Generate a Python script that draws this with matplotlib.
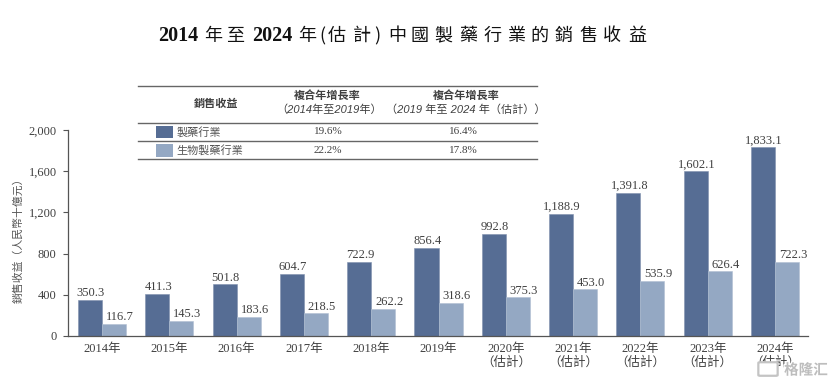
import matplotlib
matplotlib.use("Agg")
import matplotlib.pyplot as plt
import matplotlib.patheffects as pe
from matplotlib.lines import Line2D
from matplotlib.patches import Rectangle, FancyBboxPatch
import numpy as np

W, H = 832, 386
FONT = ["Liberation Serif", "Noto Sans CJK TC"]
CJK = ["Noto Sans CJK TC", "Liberation Sans"]
HEAD = ["Liberation Sans", "Noto Sans CJK TC"]
LP, RP = "\uff08", "\uff09"   # full-width brackets

years = ["2014年", "2015年", "2016年", "2017年", "2018年", "2019年",
         f"2020年\n{LP}估計{RP}", f"2021年\n{LP}估計{RP}", f"2022年\n{LP}估計{RP}",
         f"2023年\n{LP}估計{RP}", f"2024年\n{LP}估計{RP}"]
pharma = [350.3, 411.3, 501.8, 604.7, 722.9, 856.4, 992.8, 1188.9, 1391.8, 1602.1, 1833.1]
biologic = [116.7, 145.3, 183.6, 218.5, 262.2, 318.6, 375.3, 453.0, 535.9, 626.4, 722.3]
yticks = [0, 400, 800, 1200, 1600, 2000]

series_names = ["製藥行業", "生物製藥行業"]
cagr_early = ["19.6%", "22.2%"]
cagr_late = ["16.4%", "17.8%"]

# title pieces, letter-spaced as in the original
title_parts = ["2014", "年", "至", "2024", "年", "(", "估", "計", ")",
               "中", "國", "製", "藥", "行", "業", "的", "銷", "售", "收", "益"]
title_px = [178, 213, 235, 272, 307, 322, 337, 362, 377,
            397, 420, 443, 468, 493, 517, 539, 563, 588, 612, 637]

DARK = "#566d94"
LIGHT = "#94a8c3"
INK = "#404040"


def fx(px):
    return px / W


def fy(py):
    return 1 - py / H


fig = plt.figure(figsize=(W / 100, H / 100), dpi=100, facecolor="white")
ax = fig.add_axes([fx(68), fy(336), fx(808) - fx(68), fy(130) - fy(336)])

x = np.arange(len(years))
bw = 0.357
ax.bar(x - bw / 2, pharma, bw, color=DARK, edgecolor="#7f90ad", lw=0.4)
ax.bar(x + bw / 2, biologic, bw, color=LIGHT, edgecolor="#b0bfd3", lw=0.4)

for i in x:
    ax.annotate(f"{pharma[i]:,.1f}", (i - bw / 2 + 0.015, pharma[i]), xytext=(0, 0.5), textcoords="offset points",
                ha="center", va="bottom", fontsize=9, color=INK, family=FONT)
    ax.annotate(f"{biologic[i]:,.1f}", (i + bw / 2 + 0.09, biologic[i]), xytext=(0, 0.5), textcoords="offset points",
                ha="center", va="bottom", fontsize=9, color=INK, family=FONT)

ax.set_xlim(-0.505, 10.49)
ax.set_ylim(0, 2000)
ax.set_yticks(yticks)
ax.set_yticklabels([f"{v:,}" for v in yticks], family=FONT, fontsize=9, color=INK)
ax.set_xticks(x)
ax.set_xticklabels(years, family=FONT, fontsize=9, color=INK, linespacing=1.1)
ax.tick_params(axis="y", length=3.6, width=0.8, color="#555555", direction="out", pad=4.5)
ax.tick_params(axis="x", length=0, pad=5)
for s in ("top", "right"):
    ax.spines[s].set_visible(False)
for s in ("left", "bottom"):
    ax.spines[s].set_color("#555555")
    ax.spines[s].set_linewidth(0.9)

fig.text(fx(18), fy(238), f"銷售收益{LP}人民幣十億元{RP}", rotation=90, ha="center", va="center",
         fontsize=7.8, color="#555555", family=CJK)

for part, px in zip(title_parts, title_px):
    digits = part.isdigit()
    fig.text(fx(px), fy(36), part, ha="center", va="center", fontsize=13 if not digits else 14.5,
             fontweight="bold" if digits else "medium", color="#111111", family=FONT if digits else CJK)

# growth table above the bars
for py in (85.5, 122.5, 140.7, 159.3):
    fig.add_artist(Line2D([fx(138), fx(537)], [fy(py), fy(py)], color="#666666", lw=1.0))

head = dict(ha="center", va="center", fontsize=8, color=INK, family=HEAD, style="italic")
fig.text(fx(216), fy(104), "銷售收益", fontweight="bold", **head)
fig.text(fx(327), fy(96), "複合年增長率", fontweight="bold", **head)
fig.text(fx(329), fy(109.5), f"{LP}2014年至2019年{RP}", **head)
fig.text(fx(466), fy(96), "複合年增長率", fontweight="bold", **head)
fig.text(fx(466), fy(109.5), f"{LP}2019 年至 2024 年{LP}估計{RP}{RP}", **head)

rows = [(132, DARK), (150.5, LIGHT)]
for k, (py, col) in enumerate(rows):
    fig.add_artist(Rectangle((fx(155.5), fy(py + 6.5)), fx(17), fy(py - 6.5) - fy(py + 6.5),
                             transform=fig.transFigure, fc=col, ec="none"))
    fig.text(fx(176.7), fy(py), series_names[k], ha="left", va="center", fontsize=8, color="#555555", family=CJK)
    fig.text(fx(328), fy(py), cagr_early[k], ha="center", va="center", fontsize=8, color=INK, family=FONT)
    fig.text(fx(463), fy(py), cagr_late[k], ha="center", va="center", fontsize=8, color=INK, family=FONT)

# watermark in the lower right corner, sits on top of the last tick label
fig.add_artist(FancyBboxPatch((fx(760), fy(375)), fx(16), fy(363) - fy(375), boxstyle="round,pad=0.002",
                              transform=fig.transFigure, fc="white", ec="#c4c4c4", lw=1.6, zorder=5))
fig.text(fx(806), fy(369.5), "格隆汇", ha="center", va="center", fontsize=10.5, color="#bdbdbd", family=CJK,
         fontweight="bold", zorder=6, path_effects=[pe.withStroke(linewidth=2, foreground="white")])

fig.savefig("out.png", dpi=100)
